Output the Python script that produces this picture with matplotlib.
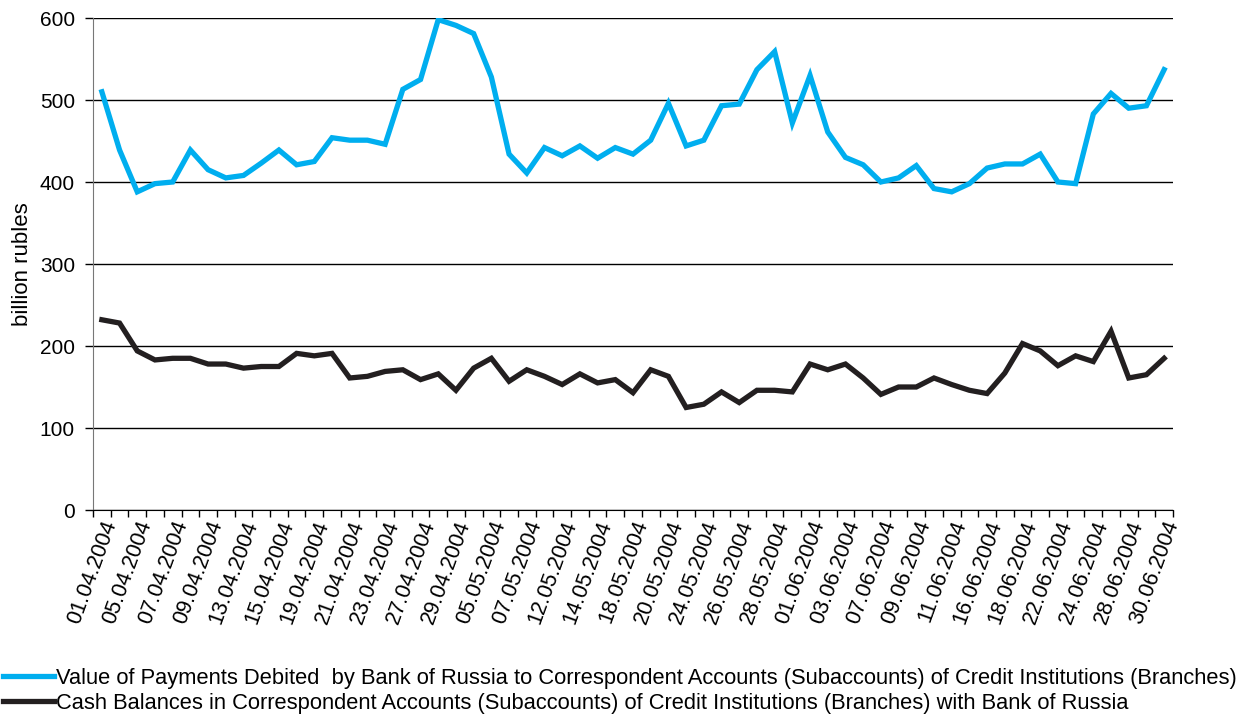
import matplotlib
matplotlib.use("Agg")
import matplotlib.pyplot as plt
import matplotlib.transforms as mtransforms
import numpy as np

plt.rcParams['font.family'] = ['Liberation Sans', 'DejaVu Sans']

dates = ["01.04.2004", "02.04.2004", "05.04.2004", "06.04.2004", "07.04.2004", "08.04.2004",
         "09.04.2004", "12.04.2004", "13.04.2004", "14.04.2004", "15.04.2004", "16.04.2004",
         "19.04.2004", "20.04.2004", "21.04.2004", "22.04.2004", "23.04.2004", "26.04.2004",
         "27.04.2004", "28.04.2004", "29.04.2004", "30.04.2004", "05.05.2004", "06.05.2004",
         "07.05.2004", "11.05.2004", "12.05.2004", "13.05.2004", "14.05.2004", "17.05.2004",
         "18.05.2004", "19.05.2004", "20.05.2004", "21.05.2004", "24.05.2004", "25.05.2004",
         "26.05.2004", "27.05.2004", "28.05.2004", "31.05.2004", "01.06.2004", "02.06.2004",
         "03.06.2004", "04.06.2004", "07.06.2004", "08.06.2004", "09.06.2004", "10.06.2004",
         "11.06.2004", "15.06.2004", "16.06.2004", "17.06.2004", "18.06.2004", "21.06.2004",
         "22.06.2004", "23.06.2004", "24.06.2004", "25.06.2004", "28.06.2004", "29.06.2004",
         "30.06.2004"]

payments = [510, 439, 388, 398, 400, 439, 415, 405, 408, 423,
            439, 421, 425, 454, 451, 451, 446, 513, 525, 598,
            591, 581, 528, 434, 411, 442, 432, 444, 429, 442,
            434, 451, 496, 444, 451, 493, 495, 537, 559, 472,
            530, 461, 430, 421, 400, 405, 420, 392, 388, 398,
            417, 422, 422, 434, 400, 398, 483, 508, 490, 493, 537]

balances = [232, 228, 194, 183, 185, 185, 178, 178, 173, 175,
            175, 191, 188, 191, 161, 163, 169, 171, 159, 166,
            146, 173, 185, 157, 171, 163, 153, 166, 155, 159,
            143, 171, 163, 125, 129, 144, 131, 146, 146, 144,
            178, 171, 178, 161, 141, 150, 150, 161, 153, 146,
            142, 167, 203, 194, 176, 188, 181, 218, 161, 165, 185]

label_pay = ("Value of Payments Debited  by Bank of Russia to Correspondent Accounts "
             "(Subaccounts) of Credit Institutions (Branches)")
label_bal = ("Cash Balances in Correspondent Accounts (Subaccounts) of Credit Institutions "
             "(Branches) with Bank of Russia")

fig = plt.figure(figsize=(12.53, 7.16), dpi=100)
ax = fig.add_axes([93 / 1253, 1 - 510 / 716, 1080 / 1253, 492 / 716])

x = np.arange(len(dates))
ax.plot(x, payments, color='#00AEEF', lw=3.8, solid_joinstyle='miter', label=label_pay)
ax.plot(x, balances, color='#231F20', lw=3.8, solid_joinstyle='miter', label=label_bal)

ax.set_xlim(-0.5, len(dates) - 0.5)
ax.set_ylim(0, 600)
ax.set_yticks(np.arange(0, 601, 100))
ax.yaxis.grid(True, color='black', lw=1)
ax.set_axisbelow(True)

# ticks between categories, labels on every second date
ax.set_xticks(np.arange(-0.5, len(dates), 1.0))
ax.set_xticklabels([])
ax.set_xticks(x[::2], minor=True)
ax.set_xticklabels([dates[i] for i in x[::2]], minor=True, rotation=70,
                   rotation_mode='anchor', ha='right', va='center', fontsize=15.5)
ax.tick_params(axis='x', which='minor', length=0, pad=8)
ax.tick_params(axis='x', which='major', length=5, width=1)
ax.tick_params(axis='y', length=6, width=1, labelsize=15, pad=7)
offset = mtransforms.ScaledTranslation(9 / 100, 0, fig.dpi_scale_trans)
for lab in ax.xaxis.get_minorticklabels():
    lab.set_transform(lab.get_transform() + offset)

for s in ['top', 'right']:
    ax.spines[s].set_visible(False)
ax.spines['left'].set_color('#777777')
ax.spines['bottom'].set_color('black')

ax.set_ylabel("billion rubles", fontsize=16, labelpad=5)

fig.legend(loc='lower left', bbox_to_anchor=(3 / 1253, 2 / 716), frameon=False, fontsize=15.75,
           handlelength=2.33, handletextpad=0.08, labelspacing=0.19, borderpad=0,
           borderaxespad=0)

fig.savefig("out.png", dpi=100)
